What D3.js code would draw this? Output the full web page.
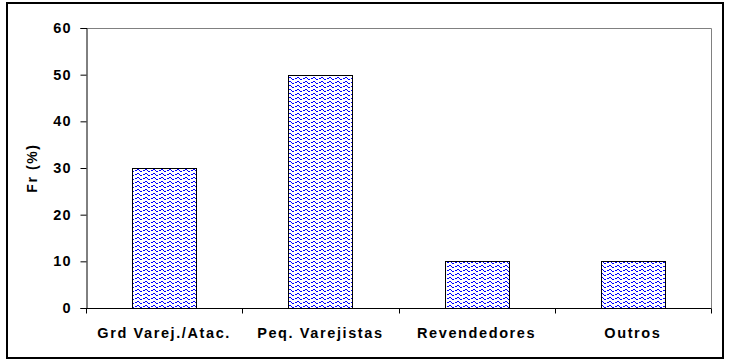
<!DOCTYPE html>
<html><head><meta charset="utf-8">
<script src="https://cdn.jsdelivr.net/npm/d3@7"></script>
<style>body{margin:0;background:#fff}svg{display:block}text{font-family:"Liberation Sans",Arial,sans-serif;font-weight:bold;fill:#000}</style>
</head><body>
<script>
const categories = ["Grd Varej./Atac.", "Peq. Varejistas", "Revendedores", "Outros"];
const values = [30, 50, 10, 10];
const yTicks = [0, 10, 20, 30, 40, 50, 60];
const yLabel = "Fr (%)";

const W = 734, H = 364;
const m = {left: 86, top: 28, right: 711, bottom: 308};
const svg = d3.select("body").append("svg").attr("width", W).attr("height", H);

const defs = svg.append("defs");
const pat = defs.append("pattern").attr("id", "wave").attr("patternUnits", "userSpaceOnUse")
  .attr("width", 8).attr("height", 4);
pat.append("rect").attr("width", 8).attr("height", 4).attr("fill", "#fff");
[[0,2],[1,1],[2,1],[3,2],[4,3],[5,3],[7,2]].forEach(([x,y]) =>
  pat.append("rect").attr("x", x).attr("y", y).attr("width", 1).attr("height", 1).attr("fill", "#0000ff"));

// outer border
svg.append("rect").attr("x", 7).attr("y", 3).attr("width", 716).attr("height", 355)
  .attr("fill", "none").attr("stroke", "#000").attr("stroke-width", 2);

const x = d3.scaleBand().domain(categories).range([m.left, m.right]).paddingInner(0).paddingOuter(0);
const y = d3.scaleLinear().domain([0, 60]).range([m.bottom, m.top]);

// plot area frame (top & right gray)
svg.append("path").attr("d", `M${m.left},${m.top + 0.5}H${m.right + 0.5}V${m.bottom}`)
  .attr("fill", "none").attr("stroke", "#808080").attr("stroke-width", 1);

const bw = x.bandwidth() * 0.41;
svg.selectAll(".bar").data(values).enter().append("rect")
  .attr("x", (d, i) => Math.round(x(categories[i]) + x.bandwidth() / 2 - bw / 2) + 0.5)
  .attr("y", d => Math.round(y(d)) + 0.5)
  .attr("width", Math.round(bw))
  .attr("height", d => Math.round(y(0)) - Math.round(y(d)))
  .attr("fill", "url(#wave)").attr("stroke", "#000").attr("stroke-width", 1);

// y axis
const yAxis = d3.axisLeft(y).tickValues(yTicks).tickSize(6).tickPadding(9);
const gy = svg.append("g").attr("transform", `translate(${m.left + 0.5},0)`).call(yAxis);
gy.select(".domain").attr("stroke", "#000");
gy.selectAll(".tick line").attr("stroke", "#000");
gy.selectAll(".tick text").attr("font-size", 14.5).attr("font-family", "Liberation Sans, Arial")
  .attr("font-weight", "bold").attr("fill", "#000").attr("letter-spacing", 1);

// x axis
const xAxis = d3.axisBottom(x).tickSize(0).tickPadding(0).tickFormat("");
const gx = svg.append("g").attr("transform", `translate(0,${m.bottom + 0.5})`).call(xAxis);
gx.select(".domain").attr("stroke", "#000").attr("d", `M${m.left},0H${m.right + 0.5}`);
const bounds = categories.map(c => x(c)).concat([m.right]);
gx.selectAll(".bt").data(bounds).enter().append("line")
  .attr("x1", d => Math.round(d) + 0.5).attr("x2", d => Math.round(d) + 0.5)
  .attr("y1", 0).attr("y2", 5).attr("stroke", "#000");
svg.selectAll(".xl").data(categories).enter().append("text")
  .attr("x", d => x(d) + x.bandwidth() / 2).attr("y", 337.5)
  .attr("text-anchor", "middle").attr("font-size", 14.5).attr("letter-spacing", 1.6)
  .text(d => d);

svg.append("text").attr("transform", `translate(37,${(m.top + m.bottom) / 2}) rotate(-90)`)
  .attr("text-anchor", "middle").attr("font-size", 14).attr("letter-spacing", 1.6).text(yLabel);
</script>
</body></html>
